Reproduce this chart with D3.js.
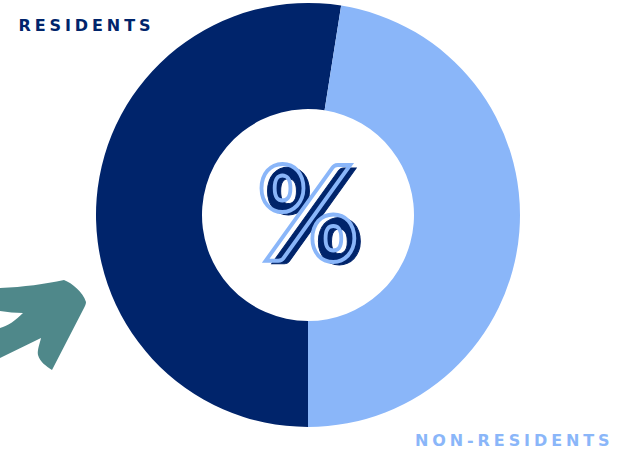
<!DOCTYPE html>
<html>
<head>
<meta charset="utf-8">
<script src="https://cdn.jsdelivr.net/npm/d3@7"></script>
<style>
html,body{margin:0;padding:0;background:#fff;overflow:hidden}
svg{display:block}
</style>
</head>
<body>
<svg id="chart" width="619" height="451"></svg>
<script>
// Share of each group, in percent
const categories = ["Residents", "Non-residents"];
const shares = [52.5, 47.5];
const labels = ["RESIDENTS", "NON-RESIDENTS"];
const sliceColors = ["#00246b", "#8ab6f9"];

const svg = d3.select("#chart");
const cx = 308, cy = 215, outer = 212, inner = 106;

// Ring starts at six o'clock and runs clockwise
const pie = d3.pie().sort(null).startAngle(Math.PI).endAngle(3 * Math.PI);
const arc = d3.arc().innerRadius(inner).outerRadius(outer);
const color = d3.scaleOrdinal(categories, sliceColors);

svg.append("g")
  .attr("transform", `translate(${cx},${cy})`)
  .selectAll("path")
  .data(pie(shares))
  .join("path")
  .attr("d", arc)
  .attr("fill", (d, i) => color(categories[i]));

// Decorative arrow entering from the left edge
svg.append("path")
  .attr("fill", "#4f888a")
  .attr("d", "M0,288 C24,287 45,284 64,280 C72,283 83,292 86,302 C86,304 85,306 84,308 L52,370 C46,366 40,362 38,355 C37,350 40,343 41,338 L0,358 L0,328 C8,326 16,320 23,313 C15,313 8,312 0,311 Z");

// Percent sign: offset dark copy beneath an outlined copy
const glyph = svg.append("g")
  .attr("font-family", "Lato").attr("font-weight", 900)
  .attr("font-size", 131).attr("text-anchor", "middle");
glyph.append("text").attr("transform", "translate(314,264) scale(0.94,1)").text("%")
  .attr("fill", "#00246b").attr("stroke", "#00246b").attr("stroke-width", 1);
glyph.append("text").attr("transform", "translate(308,261) scale(0.94,1)").text("%")
  .attr("fill", "none").attr("stroke", "#8ab6f9").attr("stroke-width", 4);

// Series labels
svg.selectAll("text.label")
  .data(labels)
  .join("text")
  .attr("class", "label")
  .attr("x", (d, i) => [18.5, 415][i])
  .attr("y", (d, i) => [30.5, 445.5][i])
  .attr("fill", (d, i) => sliceColors[i])
  .attr("font-family", "'DejaVu Sans'")
  .attr("font-weight", 700)
  .attr("font-size", 16)
  .attr("letter-spacing", 3.9)
  .text(d => d);
</script>
</body>
</html>
